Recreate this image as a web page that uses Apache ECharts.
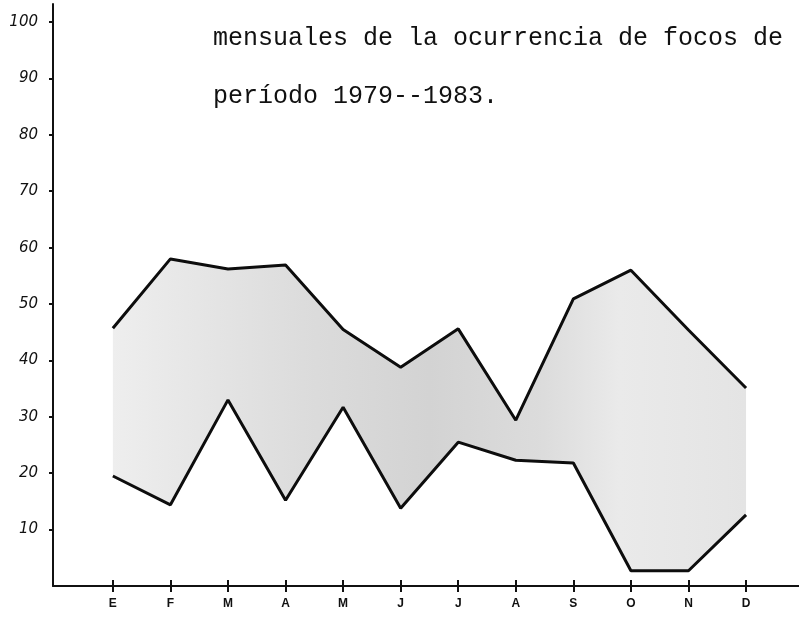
<!DOCTYPE html>
<html>
<head>
<meta charset="utf-8">
<script src="https://cdn.jsdelivr.net/npm/echarts@6/dist/echarts.min.js"></script>
<style>html,body{margin:0;padding:0;background:#fff;}#c{width:799px;height:617px;}</style>
</head>
<body>
<div id="c"></div>
<script>
var months = ['E','F','M','A','M','J','J','A','S','O','N','D'];
var upper = [45.7, 58.0, 56.2, 56.9, 45.5, 38.8, 45.6, 29.4, 50.9, 56.0, 45.4, 35.1];
var lower = [19.5, 14.4, 33.0, 15.2, 31.7, 13.8, 25.5, 22.3, 21.8, 2.7, 2.7, 12.6];
var yTicks = [10, 20, 30, 40, 50, 60, 70, 80, 90, 100];
var titleLines = ['mensuales de la ocurrencia de focos de', 'período 1979--1983.'];

var idx = months.map(function(_, i){ return i; });
var lowerPts = lower.map(function(v, i){ return [i, v]; });
var upperPts = upper.map(function(v, i){ return [i, v]; });

var chart = echarts.init(document.getElementById('c'), null, {renderer: 'canvas'});
chart.setOption({
  animation: false,
  backgroundColor: '#ffffff',
  title: titleLines.map(function(t, i){
    return {
      text: t, left: 208, top: 21 + i * 58,
      textStyle: {fontFamily: 'Liberation Mono', fontSize: 25, fontWeight: 'normal', color: '#111'}
    };
  }),
  grid: {left: 53, right: 0, top: 4, bottom: 31, containLabel: false},
  xAxis: [{
    type: 'value', min: -1.04, max: 11.92,
    splitLine: {show: false},
    axisLine: {onZero: false, lineStyle: {color: '#111', width: 2}},
    axisTick: {show: true, customValues: idx, length: 6, lineStyle: {color: '#111', width: 2}},
    axisLabel: {customValues: idx, margin: 12, fontSize: 12, fontWeight: 'bold', color: '#111',
      formatter: function(v){ return months[Math.round(v)] || ''; }}
  }, {
    type: 'value', min: -1.04, max: 11.92, position: 'bottom',
    splitLine: {show: false},
    axisLine: {show: false, onZero: false},
    axisTick: {show: true, inside: true, customValues: idx, length: 6, lineStyle: {color: '#111', width: 2}},
    axisLabel: {show: false}
  }],
  yAxis: {
    type: 'value', min: 0, max: 103.2,
    splitLine: {show: false},
    axisLine: {show: true, onZero: false, lineStyle: {color: '#111', width: 2}},
    axisTick: {show: true, customValues: yTicks, length: 4, lineStyle: {color: '#111', width: 2}},
    axisLabel: {customValues: yTicks, margin: 15, fontSize: 15, fontStyle: 'italic', fontFamily: 'DejaVu Sans', color: '#111'}
  },
  series: [{
    type: 'custom', silent: true, data: [0],
    renderItem: function(params, api){
      var pts = [];
      for (var i = 0; i < upper.length; i++) pts.push(api.coord([i, upper[i]]));
      for (var j = lower.length - 1; j >= 0; j--) pts.push(api.coord([j, lower[j]]));
      return {
        type: 'polygon', shape: {points: pts},
        style: {fill: new echarts.graphic.LinearGradient(0, 0, 1, 0, [
          {offset: 0, color: '#eeeeee'},
          {offset: 0.3, color: '#dcdcdc'},
          {offset: 0.5, color: '#d3d3d3'},
          {offset: 0.68, color: '#dcdcdc'},
          {offset: 0.8, color: '#eaeaea'},
          {offset: 1, color: '#e4e4e4'}
        ])}
      };
    }
  }, {
    type: 'line', data: upperPts, symbol: 'none',
    lineStyle: {color: '#0d0d0d', width: 3}
  }, {
    type: 'line', data: lowerPts, symbol: 'none',
    lineStyle: {color: '#0d0d0d', width: 3}
  }]
});
</script>
</body>
</html>
